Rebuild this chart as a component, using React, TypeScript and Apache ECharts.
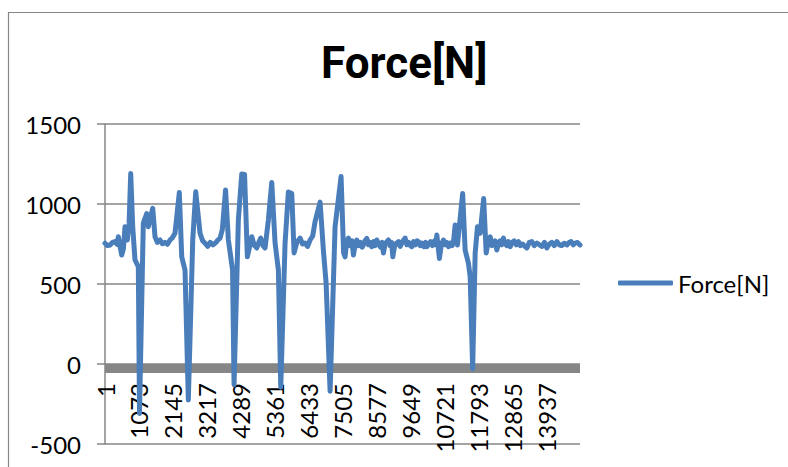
import React, { useEffect, useRef } from "react";
import * as echarts from "echarts";

// sample index (0-based) and force readings, one row per stretch
const sampleIndex = [
  0, 80, 158, 240, 315, 380, 420, 470, 527, 580, 631, 704, 760, 811, 874, 946, 1051, 1088,
  1208, 1316, 1366, 1505, 1577, 1650, 1735, 1810, 1893, 1970, 2051, 2130, 2208, 2344, 2420, 2524, 2628,
  2767, 2861, 2997, 3080, 3155, 3240, 3320, 3407, 3500, 3560, 3628, 3700, 3802, 3891, 4023, 4070,
  4206, 4313, 4401, 4490, 4628, 4700, 4786, 4850, 4912, 4980, 5048, 5152, 5259, 5364, 5468, 5543,
  5679, 5783, 5890, 5963, 6050, 6152, 6230, 6310, 6390, 6468, 6550, 6625, 6783, 6887, 6973, 7099,
  7256, 7445, 7525, 7572, 7620, 7676, 7730, 7790, 7834, 7890, 7941, 8000, 8060, 8110, 8150, 8200, 8256, 8310,
  8360, 8414, 8470, 8520, 8572, 8630, 8690, 8740, 8780, 8830, 8890, 8938, 8990, 9040, 9077, 9130, 9190, 9254,
  9310, 9370, 9420, 9465, 9520, 9580, 9630, 9676, 9730, 9790, 9840, 9885, 9940, 10000, 10060, 10110, 10150,
  10210, 10270, 10330, 10390, 10430, 10465, 10547, 10610, 10673, 10720, 10780, 10831, 10890, 10950, 11000,
  11043, 11115,
  11279, 11358, 11462, 11516, 11595, 11674, 11747, 11831, 11942, 12021, 12080, 12147, 12200, 12250, 12300,
  12358, 12410, 12460, 12510, 12566, 12620, 12670, 12720, 12778, 12840, 12900, 12970, 13040, 13100, 13170,
  13240, 13305, 13380, 13460, 13540, 13620, 13700, 13780, 13860, 13936, 14010, 14090, 14170, 14251, 14330,
  14400, 14480, 14566, 14640, 14700, 14770, 14828, 14900, 14980,
];
const force = [
  755, 740, 744, 760, 765, 748, 795, 740, 681, 720, 858, 775, 880, 1190, 858, 650, 608, -310,
  880, 940, 858, 973, 795, 760, 775, 752, 760, 748, 775, 790, 817, 1072, 670, 587, -225,
  775, 1076, 817, 770, 755, 735, 760, 744, 760, 775, 787, 840, 1088, 775, 587, -130,
  900, 1188, 1185, 670, 795, 745, 725, 760, 787, 740, 725, 900, 1134, 756, 587, -145,
  756, 1075, 1065, 694, 760, 787, 750, 756, 735, 775, 800, 890, 1012, 712, 506, -170,
  858, 1172, 694, 670, 760, 787, 740, 770, 681, 745, 775, 740, 760, 730, 744, 770, 785, 745,
  760, 733, 765, 740, 775, 750, 730, 760, 694, 745, 765, 775, 740, 760, 670, 735, 755, 765,
  735, 760, 775, 787, 745, 760, 740, 733, 765, 745, 770, 765, 740, 755, 733, 760, 733,
  750, 765, 740, 770, 745, 806, 660, 750, 775, 745, 760, 733, 755, 740, 780,
  869, 744,
  1066, 712, 629, 546, -30, 694, 858, 817, 1034, 694, 760, 795, 740, 745, 770,
  712, 760, 770, 745, 787, 750, 740, 765, 733, 760, 770, 745, 765, 740, 750,
  735, 725, 760, 765, 740, 756, 745, 735, 760, 725, 750, 760, 740, 765, 745,
  740, 755, 744, 760, 765, 745, 756, 760, 744,
];
const yTicks = [-500, 0, 500, 1000, 1500];
const seriesName = "Force[N]";

const GRAY = "#868686";
const FONT = "Lato";

export default function App() {
  const ref = useRef<HTMLDivElement>(null);
  useEffect(() => {
    if (!ref.current) return;
    const chart = echarts.init(ref.current, null, { renderer: "svg" });
    const data = sampleIndex.map((x, i) => [x, force[i]]);
    chart.setOption({
      animation: false,
      backgroundColor: "#ffffff",
      title: {
        text: seriesName,
        left: 321,
        top: 41,
        padding: 0,
        textStyle: { fontFamily: "Roboto", fontWeight: "bold", fontSize: 44, color: "#000" },
      },
      legend: {
        data: [seriesName],
        left: 618,
        top: 271,
        icon: "roundRect",
        itemWidth: 55,
        itemHeight: 5,
        padding: 0,
        textStyle: { fontFamily: FONT, fontSize: 24, color: "#000" },
      },
      graphic: [
        {
          type: "rect",
          shape: { x: 8.5, y: 12.5, width: 800, height: 500 },
          style: { fill: "none", stroke: GRAY, lineWidth: 1.2 },
          silent: true,
        },
      ],
      grid: {
        left: 105,
        right: 208,
        top: 124,
        bottom: 23,
        containLabel: false,
        outerBoundsMode: "none",
      },
      xAxis: {
        type: "value",
        position: "bottom",
        min: 0,
        max: 14980,
        interval: 1072,
        axisLine: { show: false, onZero: false },
        axisTick: { show: false },
        splitLine: { show: false },
        axisLabel: {
          rotate: 90,
          margin: -61,
          showMaxLabel: false,
          hideOverlap: false,
          fontFamily: FONT,
          fontSize: 24,
          color: "#000",
          formatter: (v: number) => String(v + 1),
        },
      },
      yAxis: {
        type: "value",
        min: yTicks[0],
        max: yTicks[yTicks.length - 1],
        interval: 500,
        axisLine: { show: true, onZero: false, lineStyle: { color: GRAY, width: 1.5 } },
        axisTick: { show: true, length: 8, lineStyle: { color: GRAY, width: 1.5 } },
        splitLine: { show: true, lineStyle: { color: GRAY, width: 1.5 } },
        axisLabel: {
          margin: 24,
          fontFamily: FONT,
          fontSize: 24,
          color: "#000",
          formatter: (v: number) => String(v),
        },
      },
      series: [
        {
          name: seriesName,
          type: "line",
          data,
          showSymbol: false,
          symbol: "none",
          color: "#4a7ebb",
          lineStyle: { color: "#4a7ebb", width: 5, cap: "round", join: "round" },
          markArea: {
            silent: true,
            itemStyle: { color: GRAY },
            data: [[{ yAxis: 0 }, { yAxis: -56 }]],
          },
          z: 3,
        },
      ],
    });
    return () => chart.dispose();
  }, []);
  return (
    <div
      ref={ref}
      style={{ position: "fixed", left: 0, top: 0, width: 788, height: 467 }}
    />
  );
}
